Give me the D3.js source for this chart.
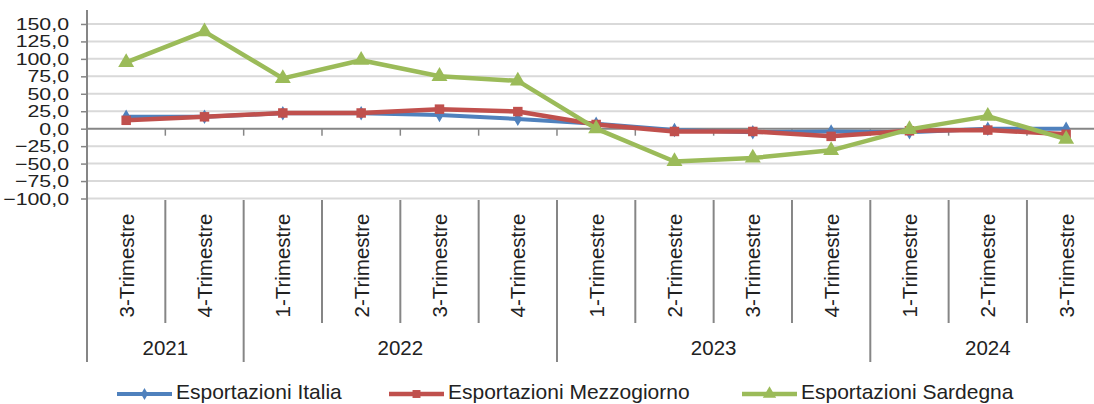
<!DOCTYPE html>
<html>
<head>
<meta charset="utf-8">
<script src="https://cdn.jsdelivr.net/npm/d3@7"></script>
<style>
  body { margin: 0; background: #fff; }
  svg { display: block; font-family: "Liberation Sans", Arial, sans-serif; }
</style>
</head>
<body>
<div id="chart"></div>
<script>
// quarters and the year they belong to
const quarters = ["3-Trimestre", "4-Trimestre", "1-Trimestre", "2-Trimestre", "3-Trimestre", "4-Trimestre",
  "1-Trimestre", "2-Trimestre", "3-Trimestre", "4-Trimestre", "1-Trimestre", "2-Trimestre", "3-Trimestre"];
const years = ["2021", "2022", "2023", "2024"];
const quartersPerYear = [2, 4, 4, 3];

// percentage change of exports
const italia = [17, 17, 22, 22, 19.5, 14, 7, -2, -5, -4, -5, 0, 0];
const mezzogiorno = [12, 17, 22.5, 22.5, 28, 24.5, 6, -4, -4, -11, -3, -2, -8];
const sardegna = [95, 139, 72, 98, 75, 68.5, 0, -47, -42, -31, -1, 18, -15];

const yTicks = [-100, -75, -50, -25, 0, 25, 50, 75, 100, 125, 150];

const width = 1094;
const height = 404;
const left = 87;
const bandW = 78.33;

const svg = d3.select('#chart')
  .append('svg')
  .attr('width', width)
  .attr('height', height);

const x = d3.scaleBand()
  .domain(d3.range(quarters.length))
  .range([left, left + bandW * quarters.length])
  .padding(0);

const y = d3.scaleLinear()
  .domain([-100, 170])
  .range([198.5, 10]);

const cx = i => x(i) + x.bandwidth() / 2;
const right = left + bandW * quarters.length;

// gridlines
svg.append('g')
  .selectAll('line')
  .data(yTicks.filter(d => d !== 0))
  .join('line')
  .attr('x1', left)
  .attr('x2', right)
  .attr('y1', d => y(d))
  .attr('y2', d => y(d))
  .attr('stroke', '#d9d9d9')
  .attr('stroke-width', 2);

// y axis
const yAxis = d3.axisLeft(y)
  .tickValues(yTicks)
  .tickSize(6)
  .tickFormat('');

svg.append('g')
  .attr('transform', `translate(${left},0)`)
  .call(yAxis)
  .call(g => g.select('.domain').remove())
  .call(g => g.selectAll('.tick line').attr('stroke', '#868686').attr('stroke-width', 1.5));

svg.append('line')
  .attr('x1', left).attr('x2', left)
  .attr('y1', 10).attr('y2', 362)
  .attr('stroke', '#868686')
  .attr('stroke-width', 2);

svg.append('g')
  .selectAll('text')
  .data(yTicks)
  .join('text')
  .attr('transform', d => `translate(69,${y(d)}) scale(1.27,1)`)
  .attr('dy', '0.36em')
  .attr('text-anchor', 'end')
  .attr('font-size', 16.8)
  .attr('fill', '#222')
  .text(d => d3.format('.1f')(d).replace('.', ','));

// zero line with ticks
svg.append('line')
  .attr('x1', left).attr('x2', right)
  .attr('y1', y(0)).attr('y2', y(0))
  .attr('stroke', '#868686')
  .attr('stroke-width', 2);

svg.append('g')
  .selectAll('line')
  .data(d3.range(quarters.length + 1))
  .join('line')
  .attr('x1', i => left + i * bandW)
  .attr('x2', i => left + i * bandW)
  .attr('y1', y(0))
  .attr('y2', y(0) + 7)
  .attr('stroke', '#868686')
  .attr('stroke-width', 1.5);

// category area: separators
const yearStart = [0];
quartersPerYear.forEach((n, i) => yearStart.push(yearStart[i] + n));

svg.append('g')
  .selectAll('line')
  .data(d3.range(quarters.length + 1))
  .join('line')
  .attr('x1', i => left + i * bandW)
  .attr('x2', i => left + i * bandW)
  .attr('y1', 200)
  .attr('y2', i => yearStart.includes(i) ? 362 : 323)
  .attr('stroke', '#868686')
  .attr('stroke-width', 2);

svg.append('g')
  .selectAll('text')
  .data(quarters)
  .join('text')
  .attr('transform', (d, i) => `translate(${cx(i)},265.5) rotate(-90)`)
  .attr('dy', '0.36em')
  .attr('text-anchor', 'middle')
  .attr('font-size', 20.5)
  .attr('fill', '#222')
  .text(d => d);

svg.append('g')
  .selectAll('text')
  .data(years)
  .join('text')
  .attr('x', (d, i) => left + (yearStart[i] + quartersPerYear[i] / 2) * bandW)
  .attr('y', 355)
  .attr('text-anchor', 'middle')
  .attr('font-size', 20.5)
  .attr('fill', '#222')
  .text(d => d);

// series
const series = [
  { name: 'Esportazioni Italia', values: italia, color: '#4f81bd', width: 4, symbol: d3.symbolDiamond, size: 60 },
  { name: 'Esportazioni Mezzogiorno', values: mezzogiorno, color: '#c0504d', width: 4.5, symbol: d3.symbolSquare, size: 90 },
  { name: 'Esportazioni Sardegna', values: sardegna, color: '#9bbb59', width: 4.5, symbol: d3.symbolTriangle, size: 110 }
];

const line = d3.line()
  .x((d, i) => cx(i))
  .y(d => y(d));

series.forEach(s => {
  svg.append('path')
    .datum(s.values)
    .attr('fill', 'none')
    .attr('stroke', s.color)
    .attr('stroke-width', s.width)
    .attr('stroke-linejoin', 'round')
    .attr('d', line);

  svg.append('g')
    .selectAll('path')
    .data(s.values)
    .join('path')
    .attr('transform', (d, i) => `translate(${cx(i)},${y(d)})`)
    .attr('d', d3.symbol(s.symbol, s.size))
    .attr('fill', s.color);
});

// legend
const legendX = [117, 389, 742];
const legend = svg.append('g');

series.forEach((s, i) => {
  const g = legend.append('g').attr('transform', `translate(${legendX[i]},394)`);
  g.append('line')
    .attr('x1', 0).attr('x2', 55)
    .attr('stroke', s.color)
    .attr('stroke-width', s.width);
  g.append('path')
    .attr('transform', 'translate(27.5,0)')
    .attr('d', d3.symbol(s.symbol, s.size * 0.7))
    .attr('fill', s.color);
  g.append('text')
    .attr('x', 59)
    .attr('y', 5)
    .attr('font-size', 21)
    .attr('fill', '#222')
    .text(s.name);
});
</script>
</body>
</html>
